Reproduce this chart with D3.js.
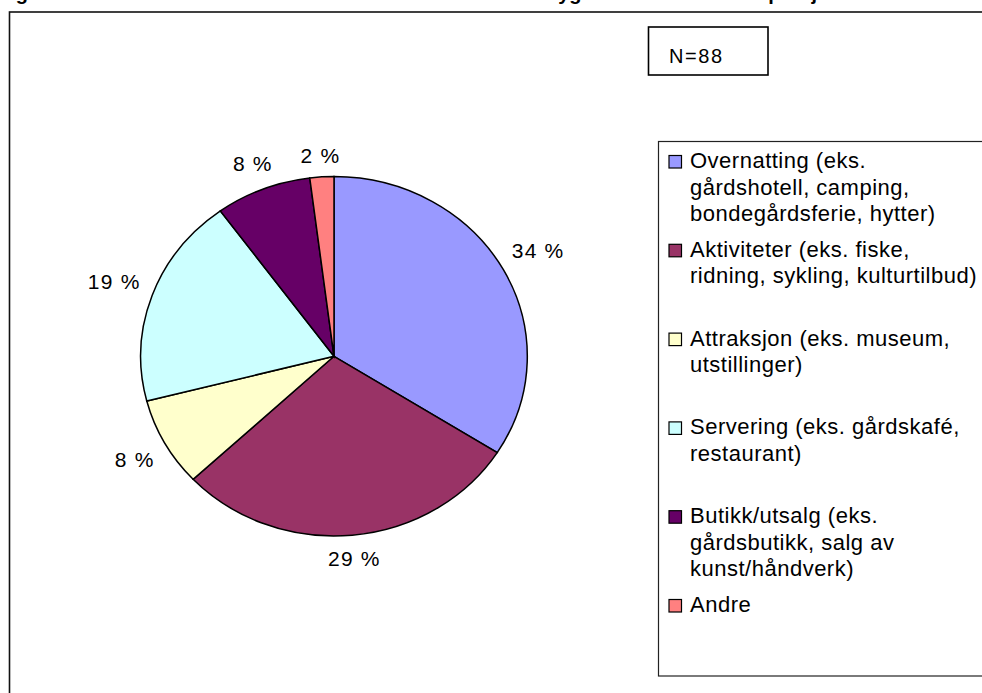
<!DOCTYPE html>
<html>
<head>
<meta charset="utf-8">
<script src="https://cdn.jsdelivr.net/npm/d3@7/dist/d3.min.js"></script>
<style>
	body { margin: 0; background: #fff; }
	svg { display: block; font-family: Arial, "Liberation Sans", sans-serif; }
</style>
</head>
<body>
<svg id="chart" width="982" height="693"></svg>
<script>
/* chart data */
const categories = [
	"Overnatting (eks. gårdshotell, camping, bondegårdsferie, hytter)",
	"Aktiviteter (eks. fiske, ridning, sykling, kulturtilbud)",
	"Attraksjon (eks. museum, utstillinger)",
	"Servering (eks. gårdskafé, restaurant)",
	"Butikk/utsalg (eks. gårdsbutikk, salg av kunst/håndverk)",
	"Andre"
];
const legendLines = [
	["Overnatting (eks.", "gårdshotell, camping,", "bondegårdsferie, hytter)"],
	["Aktiviteter (eks. fiske,", "ridning, sykling, kulturtilbud)"],
	["Attraksjon (eks. museum,", "utstillinger)"],
	["Servering (eks. gårdskafé,", "restaurant)"],
	["Butikk/utsalg (eks.", "gårdsbutikk, salg av", "kunst/håndverk)"],
	["Andre"]
];
const percents = [34, 29, 8, 19, 8, 2];
const colors = ["#9999FF", "#993366", "#FFFFCC", "#CCFFFF", "#660066", "#FF8080"];
const sampleText = "N=88";
const titleText = "Figur 12: Hvilke reiselivstilbud/aktiviteter har deltakerne i bygdeturisme innenfor prosjektet?";

/* layout */
const pieCenter = { x: 334, y: 356.3 };
const rx = 193.3, ry = 179.7;

const svg = d3.select("#chart");

/* title, mostly cut off above the picture (as in the original page) */
svg.append("text")
	.attr("x", -2)
	.attr("y", -0.5)
	.attr("font-size", "20px")
	.attr("font-weight", "bold")
	.attr("fill", "#000")
	.text(titleText);

/* chart frame */
svg.append("rect")
	.attr("x", 9.5)
	.attr("y", 12)
	.attr("width", 1000)
	.attr("height", 720)
	.attr("fill", "#fff")
	.attr("stroke", "#111")
	.attr("stroke-width", 1.6);

/* N box */
svg.append("rect")
	.attr("x", 648.5)
	.attr("y", 27)
	.attr("width", 119.5)
	.attr("height", 48)
	.attr("fill", "#fff")
	.attr("stroke", "#000")
	.attr("stroke-width", 1.6);
svg.append("text")
	.attr("x", 669)
	.attr("y", 63)
	.attr("font-size", "20px")
	.attr("letter-spacing", "1.6px")
	.attr("fill", "#000")
	.text(sampleText);

/* pie, squeezed vertically like the original */
const pie = d3.pie().sort(null).value((d) => d);
const arcs = pie(percents);
const arc = d3.arc().innerRadius(0).outerRadius(rx);

const pieG = svg.append("g")
	.attr("class", "pie")
	.attr("transform", `translate(${pieCenter.x},${pieCenter.y}) scale(1,${ry / rx})`);

pieG.selectAll("path")
	.data(arcs)
	.enter()
	.append("path")
		.attr("d", arc)
		.attr("fill", (d, i) => colors[i])
		.attr("stroke", "#000")
		.attr("stroke-width", 1.5)
		.attr("vector-effect", "non-scaling-stroke");

/* percentage labels outside the slices */
const labels = svg.append("g").attr("class", "labels");
arcs.forEach((d) => {
	const a = (d.startAngle + d.endAngle) / 2;
	const t = labels.append("text")
		.attr("font-size", "21px")
		.attr("letter-spacing", "1.2px")
		.attr("fill", "#000")
		.attr("text-anchor", "middle")
		.text(d.data + " %");
	const w = t.node().getComputedTextLength();
	const h = 15;
	const dist = 13 + Math.abs(Math.sin(a)) * w / 2 + Math.abs(Math.cos(a)) * h / 2;
	const x = pieCenter.x + (rx + dist) * Math.sin(a);
	const y = pieCenter.y - (ry + dist) * Math.cos(a);
	t.attr("x", x).attr("y", y + h / 2);
});

/* legend */
const legend = svg.append("g").attr("class", "legend");
legend.append("rect")
	.attr("x", 658.5)
	.attr("y", 141.5)
	.attr("width", 400)
	.attr("height", 534.5)
	.attr("fill", "#fff")
	.attr("stroke", "#222")
	.attr("stroke-width", 1.2);

const legendTop = 168, legendStep = 88.8, lineGap = 26.5;
const items = legend.selectAll(".item")
	.data(categories)
	.enter()
	.append("g")
		.attr("class", "item")
		.attr("transform", (d, i) => `translate(0,${legendTop + i * legendStep})`);

items.append("rect")
	.attr("x", 669)
	.attr("y", -12.5)
	.attr("width", 12.5)
	.attr("height", 12.5)
	.attr("fill", (d, i) => colors[i])
	.attr("stroke", "#000")
	.attr("stroke-width", 1.2);

items.append("text")
	.attr("font-size", "22px")
	.attr("letter-spacing", "0.5px")
	.attr("fill", "#000")
	.selectAll("tspan")
	.data((d, i) => legendLines[i])
	.enter()
	.append("tspan")
		.attr("x", 690)
		.attr("y", (d, j) => j * lineGap)
		.text((d) => d);
</script>
</body>
</html>
